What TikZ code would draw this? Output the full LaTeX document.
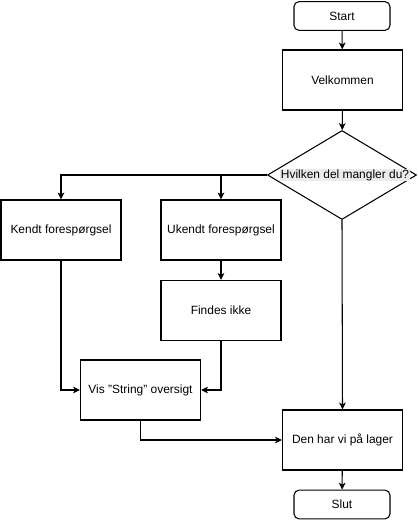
\documentclass[tikz,border=0pt]{standalone}
\usepackage{fontspec}
\setmainfont{Liberation Sans}
\usetikzlibrary{shapes.geometric,arrows.meta}

\tikzset{
	box/.style={draw, line width=0.9pt, minimum width=3.6cm, minimum height=1.8cm, inner sep=2pt},
	terminal/.style={draw, line width=0.9pt, rounded corners=0.15cm, minimum width=2.88cm, minimum height=0.86cm},
	decision/.style={draw, diamond, line width=0.9pt, minimum width=4.47cm, minimum height=2.67cm, inner sep=0pt},
	arr/.style={line width=0.9pt, -{Stealth[length=0.21cm, width=0.2cm, inset=0.06cm]}}
}

\begin{document}
\begin{tikzpicture}[x=0.03cm, y=-0.03cm, font=\fontsize{10.2}{12}\selectfont]
		\useasboundingbox (0,0) rectangle (418,521);
		% Steps
			\node [terminal] (start) at (342,16) {Start};
			\node [box] (velkommen) at (342.5,80) {Velkommen};
			\node [decision] (hvilken) at (342,175) {};
			\node [fill=black!8, inner sep=0.5pt] (hvilkentxt) at (345,175) {Hvilken del mangler du?};
			\node [box] (kendt) at (61,230) {Kendt forespørgsel};
			\node [box] (ukendt) at (221,230) {Ukendt forespørgsel};
			\node [box] (findes) at (221,310.5) {Findes ikke};
			\node [box] (vis) at (140.5,390) {Vis \symbol{"22}String\symbol{"22} oversigt};
			\node [box] (lager) at (342.5,440) {Den har vi på lager};
			\node [terminal] (slut) at (342,504.5) {Slut};
			
		% Arrows
			\draw [arr] (start) -- (velkommen);
			\draw [arr] (velkommen) -- (hvilken);
			\draw [arr] (hvilken.west) -| (kendt.north);
			\draw [arr] (hvilken.west) -| (ukendt.north);
			\draw [arr] (hvilken.south) -- (lager.north);
			\draw [arr] (ukendt) -- (findes);
			\draw [arr] (kendt.south) |- (vis.west);
			\draw [arr] (findes.south) |- (vis.east);
			\draw [arr] (vis.south) |- (lager.west);
			\draw [arr] (lager) -- (slut);
			
		\end{tikzpicture}
\end{document}
